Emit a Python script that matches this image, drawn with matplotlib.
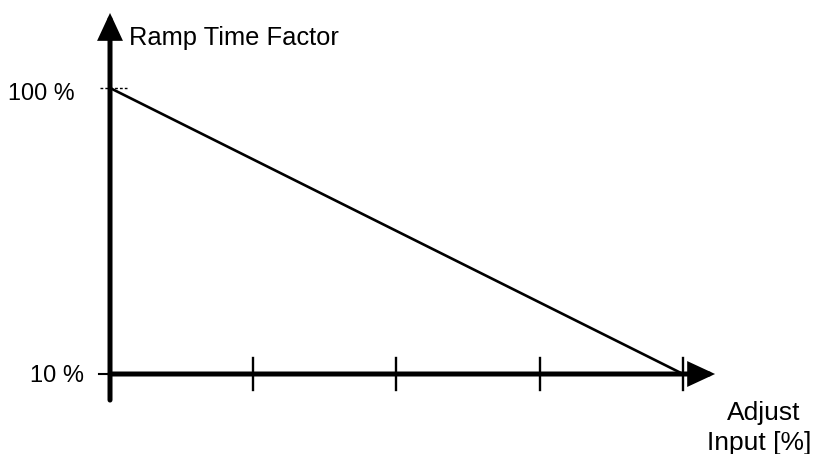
import numpy as np
import matplotlib as mpl
mpl.use('Agg')
import matplotlib.pyplot as plt

mpl.rcParams['font.family'] = ['Liberation Sans', 'DejaVu Sans']

# data
adjust_input = [0, 100]          # Adjust Input [%]
ramp_factor = [100, 10]          # Ramp Time Factor [%]
x_ticks = [25, 50, 75, 100]
y_min, y_max = 10, 100
y_labels = ['10 %', '100 %']
y_title = 'Ramp Time Factor'
x_title = ['Adjust', 'Input [%]']

fig = plt.figure(figsize=(8.17, 4.54), dpi=100)
ax = fig.add_axes([0, 0, 1, 1])
ax.set_xlim(-19.20, 123.39)
ax.set_ylim(-15.17, 127.68)
ax.axis('off')

# axes arrows
arrow = dict(arrowstyle='-|>,head_length=14,head_width=6.5', mutation_scale=1,
             lw=3.6, color='black', shrinkA=0, shrinkB=0, joinstyle='miter')
ax.annotate('', xy=(0, 123.6), xytext=(0, 1.8), arrowprops=arrow)
ax.annotate('', xy=(105.6, y_min), xytext=(0, y_min), arrowprops=arrow)

# ticks on x axis
for xt in x_ticks:
    ax.plot([xt, xt], [y_min - 5, y_min + 5], color='black', lw=1.7)

# little marks at the y levels
ax.plot([-1.9, 0], [y_min, y_min], color='black', lw=1.5)
ax.plot([-1.75, 2.97], [y_max, y_max], color='black', lw=1.0, ls=(0, (2, 1.5)))

# the ramp line
ax.plot(adjust_input, ramp_factor, color='black', lw=1.9, solid_capstyle='butt')

# labels
ax.text(-6.1, 96.2, y_labels[1], ha='right', va='baseline', fontsize=16.8)
ax.text(-13.96, 7.48, y_labels[0], ha='left', va='baseline', fontsize=17)
ax.text(3.4, 113.5, y_title, ha='left', va='baseline', fontsize=18.4)
ax.text(114.1, -4.5, x_title[0], ha='center', va='baseline', fontsize=19)
ax.text(113.3, -13.9, x_title[1], ha='center', va='baseline', fontsize=19)

plt.savefig('out.png', dpi=100)
